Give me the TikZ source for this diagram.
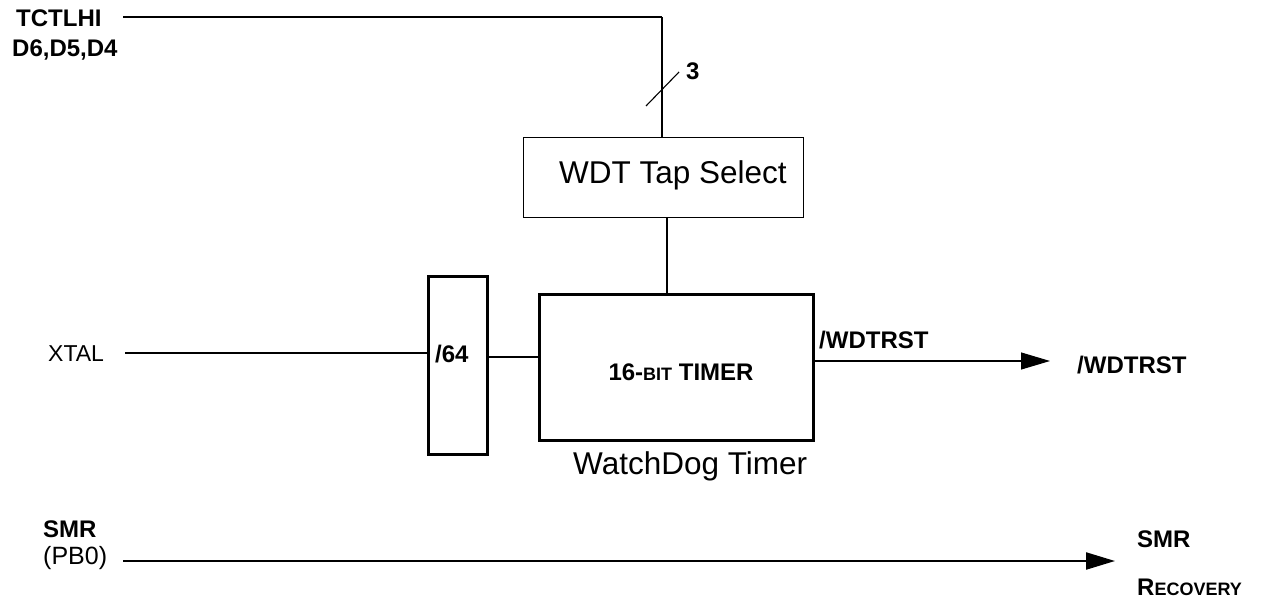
\documentclass[tikz,border=0pt]{standalone}
\usepackage{fontspec}
\setmainfont{Liberation Sans}
\usetikzlibrary{arrows.meta,calc}
\newcommand{\mysc}[1]{{\fontsize{18}{20}\selectfont #1}}
\tikzset{
  lbl/.style={inner sep=0pt, font=\fontsize{24}{28}\selectfont\bfseries},
  plain/.style={inner sep=0pt, font=\fontsize{23}{27}\selectfont},
  big/.style={inner sep=0pt, font=\fontsize{31.5}{36}\selectfont},
  thinw/.style={line width=1.1pt},
  thickw/.style={line width=2.2pt},
  boxthick/.style={draw, line width=2.6pt, inner sep=0pt, anchor=north west},
  boxthin/.style={draw, line width=1.1pt, inner sep=0pt, anchor=north west},
  arr/.style={-{Triangle[length=29pt,width=17pt]}},
}
\begin{document}
\begin{tikzpicture}[x=1pt,y=-1pt]
\useasboundingbox (0,0) rectangle (1279,607);
% labels
\node[lbl, anchor=base west] (tct) at (16,27) {TCTLHI};
\node[lbl, anchor=base west] (d6) at (12,57) {D6,D5,D4};
\node[lbl, anchor=base west] (three) at (686,80) {3};
\node[plain, anchor=base west] (xtal) at (48,361) {XTAL};
\node[lbl, anchor=base west] (smr) at (43,537) {SMR};
\node[plain, font=\fontsize{25}{28}\selectfont, anchor=base west] (pb0) at (43,564) {(PB0)};
\node[lbl, anchor=base west] (smrout) at (1137,547) {SMR};
\node[lbl, anchor=base west] (rec) at (1137,595) {R\mysc{ECOVERY}};
\node[lbl, anchor=base west] (wdl) at (819,348) {/WDTRST};
\node[lbl, anchor=base west] (wdr) at (1077,373) {/WDTRST};
% boxes
\node[boxthin, minimum width=280pt, minimum height=80pt] (tap) at (523,137) {};
\node[big, anchor=base] (taptxt) at (673,183) {WDT Tap Select};
\node[boxthick, minimum width=274pt, minimum height=146pt] (timer) at (538,293) {};
\node[lbl, anchor=base] (timtxt) at (681,380) {16-\mysc{BIT} TIMER};
\node[boxthick, minimum width=59pt, minimum height=178pt] (div) at (427,275) {};
\node[lbl, anchor=base west] (divtxt) at (435,362) {/64};
\node[big, anchor=base west] (wdt) at (573,474) {WatchDog Timer};
% connectors
\coordinate (c1) at (123,17);
\coordinate (c2) at (662,17);
\draw[thickw] (c1) -- (c2);
\draw[thinw] (c2) -- (c2 |- tap.north);
\draw[thinw] (646,106) -- (679,72);
\coordinate (t1) at (667,217);
\draw[thinw] (t1) -- (t1 |- timer.north);
\coordinate (x0) at (125,353);
\draw[thickw] (x0) -- (x0 -| div.west);
\coordinate (d0) at (486,357);
\draw[thickw] (d0) -- (d0 -| timer.west);
\coordinate (w0) at (812,361);
\coordinate (w1) at (1050,361);
\draw[thinw, arr] (w0) -- (w1);
\coordinate (s0) at (123,561);
\coordinate (s1) at (1115,561);
\draw[thickw, arr] (s0) -- (s1);
\end{tikzpicture}
\end{document}
